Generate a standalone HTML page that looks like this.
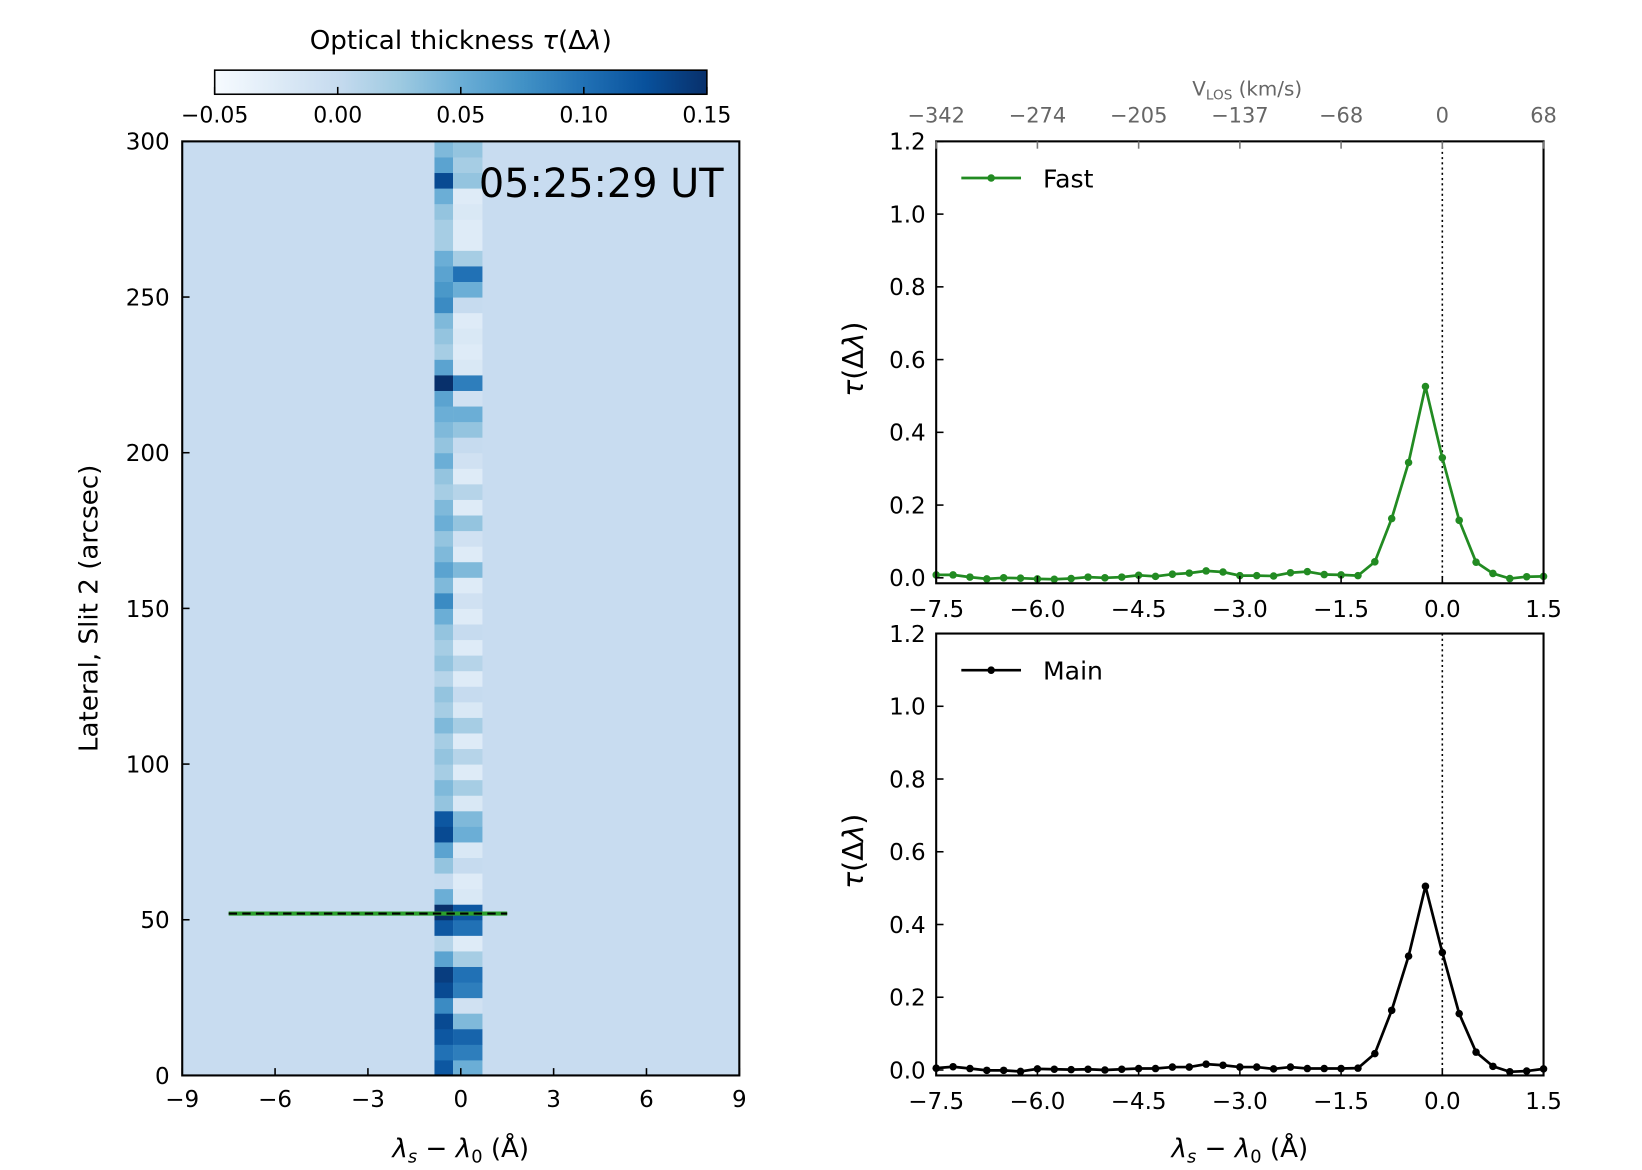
<!DOCTYPE html>
<html><head><meta charset="utf-8"><style>
html,body{margin:0;padding:0;background:#fff;}
svg{display:block;font-family:"DejaVu Sans","Liberation Sans",sans-serif;}
</style></head><body>
<svg id="fig" width="1642" height="1170" viewBox="0 0 1568 1117.3" xmlns="http://www.w3.org/2000/svg"></svg>
<script>
// ---- data ----
const heatLeftCol = [0.12,0.10,0.12,0.13,0.08,0.13,0.14,0.06,0.01,0.12,0.15,0.05,0.0,0.03,0.06,0.13,0.12,0.03,0.04,0.02,0.03,0.02,0.04,0.02,0.03,0.01,0.03,0.02,0.03,0.05,0.08,0.04,0.06,0.04,0.03,0.05,0.04,0.02,0.03,0.05,0.03,0.04,0.05,0.06,0.15,0.06,0.02,0.03,0.04,0.08,0.07,0.06,0.05,0.02,0.02,0.03,0.05,0.13,0.06,0.04];
const heatRightCol = [0.05,0.09,0.11,0.04,-0.01,0.09,0.10,0.02,-0.025,0.10,0.12,-0.02,-0.025,0.0,-0.02,0.05,0.04,-0.02,0.02,-0.025,0.01,-0.025,0.02,-0.02,0.0,-0.025,0.01,-0.025,0.0,-0.025,-0.01,-0.025,0.04,-0.025,-0.01,0.03,-0.025,0.01,-0.025,-0.01,0.0,0.03,0.05,-0.01,0.09,-0.02,-0.025,-0.02,-0.025,0.0,0.05,0.10,0.02,-0.025,-0.025,-0.02,-0.025,0.03,0.02,0.03];
const heatBackground = -0.002;
const heatXTicks = [-9,-6,-3,0,3,6,9];
const heatYTicks = [0,50,100,150,200,250,300];
const cbarTicks = [-0.05,0.00,0.05,0.10,0.15];
const cbarTickLabels = ["\u22120.05","0.00","0.05","0.10","0.15"];
const slitY = 52;
const fastValues = [0.008,0.008,0.002,-0.003,0.0,-0.001,-0.003,-0.004,-0.002,0.002,0.0,0.002,0.007,0.004,0.01,0.013,0.019,0.016,0.006,0.006,0.005,0.014,0.017,0.009,0.008,0.006,0.044,0.163,0.317,0.526,0.330,0.158,0.043,0.012,-0.002,0.003,0.004];
const mainValues = [0.005,0.009,0.004,-0.001,-0.001,-0.004,0.003,0.002,0.001,0.002,0.0,0.002,0.004,0.004,0.008,0.008,0.016,0.013,0.008,0.008,0.003,0.008,0.004,0.004,0.004,0.005,0.045,0.164,0.313,0.505,0.323,0.155,0.049,0.010,-0.005,-0.003,0.003];
const lambdaStart = -7.5, lambdaStep = 0.25;
const lineXTicks = [-7.5,-6.0,-4.5,-3.0,-1.5,0.0,1.5];
const lineYTicks = [0.0,0.2,0.4,0.6,0.8,1.0,1.2];
const vlosTickLabels = ["\u2212342","\u2212274","\u2212205","\u2212137","\u221268","0","68"];

const NS="http://www.w3.org/2000/svg";
const svg=document.getElementById('fig');
function mk(tag,attrs,parent){const e=document.createElementNS(NS,tag);for(const k in attrs)e.setAttribute(k,attrs[k]);(parent||svg).appendChild(e);return e;}
function txt(s,attrs,parent){const e=mk('text',attrs,parent);e.textContent=s;return e;}
function fmtNeg(v,d){const s=Math.abs(v).toFixed(d);return (v<0?"\u2212":"")+s;}

const blues=["#f7fbff","#deebf7","#c6dbef","#9ecae1","#6baed6","#4292c6","#2171b5","#08519c","#08306b"];
function hex(c){return [parseInt(c.substr(1,2),16),parseInt(c.substr(3,2),16),parseInt(c.substr(5,2),16)];}
function cmap(v){let t=(v+0.05)/0.2;t=Math.max(0,Math.min(1,t));const p=t*8;const i=Math.min(7,Math.floor(p));const f=p-i;const a=hex(blues[i]),b=hex(blues[i+1]);return `rgb(${a.map((x,k)=>Math.round(x+(b[k]-x)*f)).join(',')})`;}

// ---- heatmap ----
const HX0=174,HX1=706,HY0=135,HY1=1027;
const hx=v=>HX0+(v+9)/18*(HX1-HX0);
const hy=v=>HY1-v/300*(HY1-HY0);
const gH=mk('g',{},svg);


mk('rect',{x:HX0,y:HY0,width:HX1-HX0,height:HY1-HY0,fill:cmap(heatBackground)},gH);
heatLeftCol.forEach((v,i)=>{const r=mk('rect',{x:hx(-0.85),y:hy(i*5+5),width:hx(-0.25)-hx(-0.85),height:hy(0)-hy(5)+0.5,fill:cmap(v)},gH);

});
heatRightCol.forEach((v,i)=>{const r=mk('rect',{x:hx(-0.25),y:hy(i*5+5),width:hx(0.7)-hx(-0.25),height:hy(0)-hy(5)+0.5,fill:cmap(v)},gH);

});
// slit line
mk('line',{x1:hx(-7.5),x2:hx(1.5),y1:hy(slitY),y2:hy(slitY),stroke:'#2ca02c','stroke-width':4},svg);
mk('line',{x1:hx(-7.5),x2:hx(1.5),y1:hy(slitY),y2:hy(slitY),stroke:'#000','stroke-width':2,'stroke-dasharray':'8,5'},svg);
mk('rect',{x:HX0,y:HY0,width:HX1-HX0,height:HY1-HY0,fill:'none',stroke:'#000','stroke-width':2},svg);
heatXTicks.forEach(v=>{mk('line',{x1:hx(v),x2:hx(v),y1:HY1,y2:HY1-7,stroke:'#000','stroke-width':1.5});
const t=txt(fmtNeg(v,0),{x:hx(v),y:HY1+30,'font-size':22,'text-anchor':'middle'});

});
heatYTicks.forEach(v=>{mk('line',{x1:HX0,x2:HX0+7,y1:hy(v),y2:hy(v),stroke:'#000','stroke-width':1.5});
const t=txt(String(v),{x:HX0-12,y:hy(v)+8,'font-size':22,'text-anchor':'end'});

});
let t=txt('05:25:29 UT',{x:691,y:188,'font-size':38,'text-anchor':'end'});
t=txt('',{x:440,y:1105,'font-size':25,'text-anchor':'middle'});
t.innerHTML='<tspan font-style="italic">λ</tspan><tspan font-size="17" dy="5" font-style="italic">s</tspan><tspan dy="-5"> − </tspan><tspan font-style="italic">λ</tspan><tspan font-size="17" dy="5">0</tspan><tspan dy="-5"> (Å)</tspan>';
t=txt('Lateral, Slit 2 (arcsec)',{x:0,y:0,'font-size':25,'text-anchor':'middle',transform:'translate(93,581) rotate(-90)'});

// ---- colorbar ----
const CX0=205,CX1=675,CY0=67,CY1=90;
const cx=v=>CX0+(v+0.05)/0.2*(CX1-CX0);
const defs=mk('defs',{});const lg=mk('linearGradient',{id:'cbg',x1:0,x2:1,y1:0,y2:0},defs);
blues.forEach((c,i)=>mk('stop',{offset:i/8,'stop-color':c},lg));
mk('rect',{x:CX0,y:CY0,width:CX1-CX0,height:CY1-CY0,fill:'url(#cbg)',stroke:'#000','stroke-width':1.5},svg);
cbarTicks.forEach((v,i)=>{mk('line',{x1:cx(v),x2:cx(v),y1:CY1,y2:CY1-7,stroke:'#000','stroke-width':1.5});
const tt=txt(cbarTickLabels[i],{x:cx(v),y:117,'font-size':21,'text-anchor':'middle'});

});
t=txt('',{x:440,y:47,'font-size':25,'text-anchor':'middle'});
t.innerHTML='Optical thickness <tspan font-style="italic">τ</tspan>(Δ<tspan font-style="italic">λ</tspan>)';

// ---- line panels ----
function panel(values,color,label,Y0,Y1,showTop,name){
 const X0=894,X1=1474;
 const px=v=>X0+(v+7.5)/9*(X1-X0);
 const py=v=>Y1-(v+0.015)/1.215*(Y1-Y0);
 const g=mk('g',{},svg);
 
 
 mk('line',{x1:px(0),x2:px(0),y1:Y0,y2:Y1,stroke:'#000','stroke-width':1.5,'stroke-dasharray':'2,3'},g);
 const pts=values.map((v,i)=>[px(lambdaStart+i*lambdaStep),py(v)]);
 const pl=mk('polyline',{points:pts.map(p=>p.join(',')).join(' '),fill:'none',stroke:color,'stroke-width':2.6},g);
 
 
 pts.forEach(p=>{const c=mk('circle',{cx:p[0],cy:p[1],r:3.6,fill:color},g);
 
 });
 mk('rect',{x:X0,y:Y0,width:X1-X0,height:Y1-Y0,fill:'none',stroke:'#000','stroke-width':2},g);
 lineXTicks.forEach(v=>{mk('line',{x1:px(v),x2:px(v),y1:Y1,y2:Y1-7,stroke:'#000','stroke-width':1.5},g);
 const tt=txt(fmtNeg(v,1),{x:px(v),y:Y1+32,'font-size':22,'text-anchor':'middle'},g);
 
 });
 lineYTicks.forEach(v=>{mk('line',{x1:X0,x2:X0+7,y1:py(v),y2:py(v),stroke:'#000','stroke-width':1.5},g);
 const tt=txt(v.toFixed(1),{x:X0-10,y:py(v)+8,'font-size':22,'text-anchor':'end'},g);
 
 });
 if(showTop){lineXTicks.forEach((v,i)=>{mk('line',{x1:px(v),x2:px(v),y1:Y0,y2:Y0+7,stroke:'#777','stroke-width':1.5},g);
 const tt=txt(vlosTickLabels[i],{x:px(v),y:117,'font-size':20,'text-anchor':'middle',fill:'#666'},g);
 
 });
 const vt=txt('',{x:1191,y:91,'font-size':19,'text-anchor':'middle',fill:'#666'},g);
 
 
 vt.innerHTML='V<tspan font-size="13" dy="4">LOS</tspan><tspan dy="-4"> (km/s)</tspan>';}
 const ly=Y0+35;
 const lg=mk('g',{},g);
 mk('line',{x1:918,x2:975,y1:ly,y2:ly,stroke:color,'stroke-width':2.6},lg);
 mk('circle',{cx:946.5,cy:ly,r:3.6,fill:color},lg);
 txt(label,{x:996,y:ly+9,'font-size':24},lg);
 const yl=txt('',{x:0,y:0,'font-size':27,'text-anchor':'middle',transform:`translate(824,${(Y0+Y1)/2-3}) rotate(-90)`},g);
 
 
 yl.innerHTML='<tspan font-style="italic">τ</tspan>(Δ<tspan font-style="italic">λ</tspan>)';
}
panel(fastValues,'#228b22','Fast',135,557,true,'fast-panel');
panel(mainValues,'#000000','Main',605,1027,false,'main-panel');
t=txt('',{x:1184,y:1105,'font-size':25,'text-anchor':'middle'});
t.innerHTML='<tspan font-style="italic">λ</tspan><tspan font-size="17" dy="5" font-style="italic">s</tspan><tspan dy="-5"> − </tspan><tspan font-style="italic">λ</tspan><tspan font-size="17" dy="5">0</tspan><tspan dy="-5"> (Å)</tspan>';
</script>
</body></html>
